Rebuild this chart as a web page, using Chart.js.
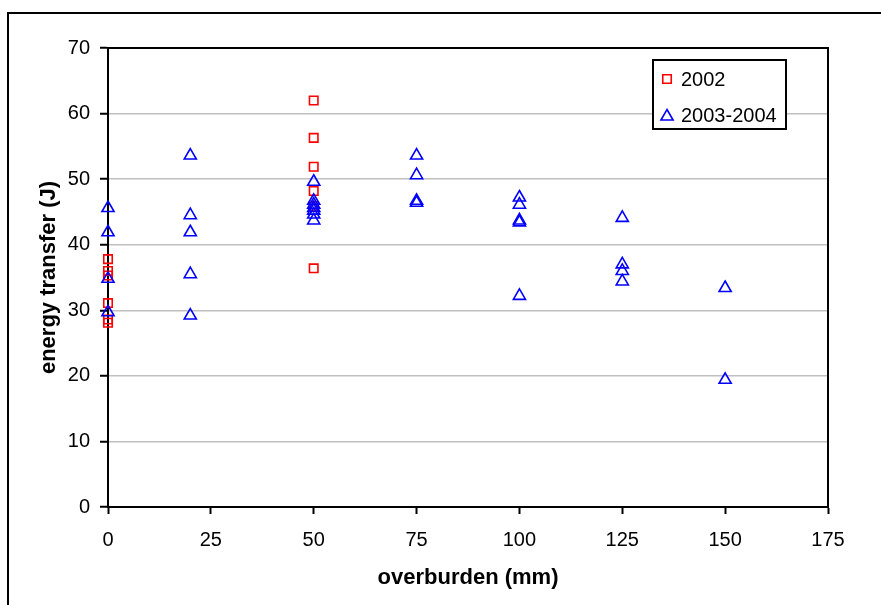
<!DOCTYPE html>
<html>
<head>
<meta charset="utf-8">
<script src="https://cdn.jsdelivr.net/npm/chart.js@4/dist/chart.umd.min.js"></script>
<style>
  html, body { margin: 0; padding: 0; background: #fff; }
  #wrap { width: 881px; height: 605px; position: relative; }
</style>
</head>
<body>
<div id="wrap"><canvas id="chart" width="881" height="605"></canvas></div>
<script>
// 2002 series (red squares)
const x2002 = [0, 0, 0, 0, 0, 0, 50, 50, 50, 50, 50, 50];
const y2002 = [37.8, 36.0, 35.3, 31.1, 28.6, 28.1, 62.0, 56.3, 51.9, 48.2, 45.9, 36.4];

// 2003-2004 series (blue triangles)
const x2003 = [0, 0, 0, 0, 20, 20, 20, 20, 20, 50, 50, 50, 50, 50, 50, 50,
               75, 75, 75, 75, 100, 100, 100, 100, 100, 125, 125, 125, 125, 150, 150];
const y2003 = [45.6, 41.9, 34.8, 29.7, 53.6, 44.5, 41.9, 35.5, 29.2, 49.6, 46.7, 46.1, 45.6, 45.2, 44.6, 43.7,
               53.6, 50.6, 46.7, 46.4, 47.2, 46.1, 43.7, 43.4, 32.2, 44.1, 37.0, 36.0, 34.4, 33.4, 19.4];

const xTicks = [0, 25, 50, 75, 100, 125, 150, 175];
const seriesNames = ['2002', '2003-2004'];

const toPoints = (xs, ys) => xs.map((x, i) => ({ x: x, y: ys[i] }));

const FONT = "'Liberation Sans', Arial, sans-serif";

// outer frame + plot box
const framePlugin = {
    id: 'frame',
    beforeDraw(chart) {
        const ctx = chart.ctx;
        ctx.save();
        ctx.strokeStyle = '#000';
        ctx.lineWidth = 2;
        ctx.beginPath();
        ctx.moveTo(8, 620);
        ctx.lineTo(8, 13);
        ctx.lineTo(900, 13);
        ctx.stroke();
        ctx.restore();
    },
    beforeDatasetsDraw(chart) {
        const { ctx, chartArea: a } = chart;
        ctx.save();
        ctx.strokeStyle = '#000';
        ctx.lineWidth = 2;
        ctx.strokeRect(a.left, a.top, a.right - a.left, a.bottom - a.top);
        ctx.restore();
    }
};

// legend box inside plot
const legendPlugin = {
    id: 'boxLegend',
    afterDraw(chart) {
        const ctx = chart.ctx;
        ctx.save();
        ctx.fillStyle = '#fff';
        ctx.fillRect(653, 60, 133, 69);
        ctx.strokeStyle = '#000';
        ctx.lineWidth = 2;
        ctx.strokeRect(653, 60, 133, 69);
        ctx.font = '20px ' + FONT;
        ctx.textBaseline = 'middle';
        const rows = [79, 115];
        chart.data.datasets.forEach((ds, i) => {
            const y = rows[i];
            ctx.strokeStyle = ds.borderColor;
            ctx.fillStyle = 'rgba(0,0,0,0)';
            ctx.lineWidth = ds.borderWidth;
            Chart.helpers.drawPoint(ctx, {
                pointStyle: ds.pointStyle, radius: ds.pointRadius, borderWidth: ds.borderWidth
            }, 667, y + (ds.pointStyle === 'triangle' ? 1.5 : 0));
            ctx.fillStyle = '#000';
            ctx.fillText(seriesNames[i], 681, y + 1);
        });
        ctx.restore();
    }
};

const ctx = document.getElementById('chart').getContext('2d');
new Chart(ctx, {
    type: 'scatter',
    data: {
        datasets: [
            {
                label: seriesNames[0],
                data: toPoints(x2002, y2002),
                pointStyle: 'rect',
                pointRadius: 6,
                borderColor: 'rgb(255, 0, 0)',
                backgroundColor: 'rgba(0,0,0,0)',
                borderWidth: 1.6,
                order: 1,
                clip: false
            },
            {
                label: seriesNames[1],
                data: toPoints(x2003, y2003),
                pointStyle: 'triangle',
                pointRadius: 7,
                borderColor: 'rgb(0, 0, 255)',
                backgroundColor: 'rgba(0,0,0,0)',
                borderWidth: 1.6,
                order: 0,
                clip: false
            }
        ]
    },
    options: {
        responsive: false,
        animation: false,
        events: [],
        layout: { padding: { left: 0, top: 48, right: 53, bottom: 0 } },
        plugins: { legend: { display: false }, tooltip: { enabled: false } },
        scales: {
            x: {
                type: 'linear',
                min: 0,
                max: 175,
                afterBuildTicks: (scale) => { scale.ticks = xTicks.map(v => ({ value: v })); },
                afterFit: (scale) => { scale.height = 98; },
                grid: { drawOnChartArea: false, drawTicks: true, tickLength: 7, tickColor: '#000', tickWidth: 2 },
                border: { display: true, color: '#000', width: 2 },
                ticks: { color: '#000', font: { size: 20, family: FONT }, padding: 14, maxRotation: 0 },
                title: {
                    display: true,
                    text: 'overburden (mm)',
                    color: '#000',
                    font: { size: 22, weight: 'bold', family: FONT },
                    padding: { top: 0, bottom: 14 }
                }
            },
            y: {
                min: 0,
                max: 70,
                afterFit: (scale) => { scale.width = 108; },
                grid: { color: '#c0c0c0', lineWidth: 1.5, tickLength: 8, tickColor: '#000', tickWidth: 2 },
                border: { display: true, color: '#000', width: 2 },
                ticks: { stepSize: 10, color: '#000', font: { size: 20, family: FONT }, padding: 10 },
                title: {
                    display: true,
                    text: 'energy transfer (J)',
                    color: '#000',
                    font: { size: 22, weight: 'bold', family: FONT },
                    padding: { top: 36, bottom: 0 }
                }
            }
        }
    },
    plugins: [framePlugin, legendPlugin]
});
</script>
</body>
</html>
